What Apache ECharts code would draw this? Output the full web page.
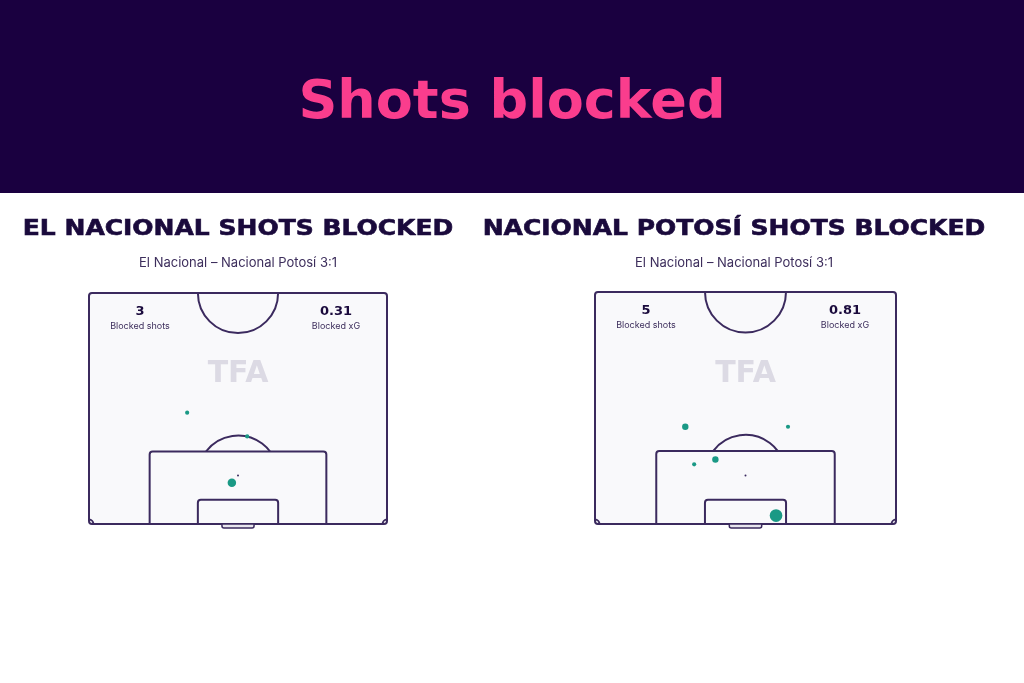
<!DOCTYPE html>
<html>
<head>
<meta charset="utf-8">
<script src="https://cdn.jsdelivr.net/npm/echarts@6/dist/echarts.min.js"></script>
<style>
  html, body { margin: 0; padding: 0; background: #ffffff; }
  #chart { width: 1024px; height: 683px; }
</style>
</head>
<body>
<div id="chart"></div>
<script>
// ---- Data ----
const mainTitle = 'Shots blocked';
const teams = ['EL NACIONAL', 'NACIONAL POTOSÍ'];
const matchLabel = 'El Nacional – Nacional Potosí 3:1';
const statLabels = ['Blocked shots', 'Blocked xG'];
const blockedShots = [3, 5];
const blockedXG = ['0.31', '0.81'];

// shot locations in metres (x across pitch 0-68, y distance from goal line) and xG
const homeShotX = [22.4, 36.1, 32.6];
const homeShotY = [25.3, 19.9, 9.4];
const homeShotXG = [0.05, 0.05, 0.21];

const awayShotX = [20.4, 43.6, 22.4, 27.2, 40.9];
const awayShotY = [22.0, 22.0, 13.5, 14.6, 1.9];
const awayShotXG = [0.12, 0.05, 0.05, 0.12, 0.47];

// ---- Styling ----
const LINE = '#3b2a5e';
const DARK = '#1a0a3c';
const DOT = '#1a9985';
const PITCH_W = 68, PITCH_H = 52.5;

function pitchRender(params, api) {
  const P = (x, y) => api.coord([x, y]);
  const o = P(0, 0), tr = P(PITCH_W, PITCH_H);
  const k = (tr[0] - o[0]) / PITCH_W;
  const st = { stroke: LINE, lineWidth: 2, fill: null };
  function rectM(x0, y0, x1, y1, r, fill) {
    const a = P(x0, y1), b = P(x1, y0);
    return { type: 'rect', shape: { x: a[0], y: a[1], width: b[0] - a[0], height: b[1] - a[1], r: r },
      style: Object.assign({}, st, { fill: fill || null }) };
  }
  const spot = P(34, 11);
  const cc = P(34, PITCH_H);
  const th = Math.asin(5.5 / 9.15);
  const children = [
    rectM(0, 0, PITCH_W, PITCH_H, 3, '#f9f9fb'),
    { type: 'arc', shape: { cx: cc[0], cy: cc[1], r: 9.15 * k, startAngle: 0, endAngle: Math.PI, clockwise: true }, style: st },
    rectM(13.84, 0, 54.16, 16.5, [3, 3, 0, 0]),
    rectM(24.84, 0, 43.16, 5.5, [3, 3, 0, 0]),
    { type: 'arc', shape: { cx: spot[0], cy: spot[1], r: 9.15 * k, startAngle: -Math.PI + th, endAngle: -th, clockwise: true }, style: st },
    { type: 'circle', shape: { cx: spot[0], cy: spot[1], r: 1 }, style: { fill: LINE } },
    { type: 'arc', shape: { cx: o[0], cy: o[1], r: 1 * k, startAngle: -Math.PI / 2, endAngle: 0, clockwise: true }, style: st },
    { type: 'arc', shape: { cx: tr[0], cy: o[1], r: 1 * k, startAngle: -Math.PI, endAngle: -Math.PI / 2, clockwise: true }, style: st },
  ];
  const g0 = P(30.34, 0), g1 = P(37.66, 0);
  children.push({ type: 'rect', shape: { x: g0[0], y: g0[1], width: g1[0] - g0[0], height: 4, r: [0, 0, 2, 2] },
    style: { stroke: LINE, lineWidth: 1.5, fill: '#e8e6ee' } });
  return { type: 'group', children: children };
}

function toPoints(xs, ys, xg) {
  return xs.map((x, i) => [x, ys[i], xg[i]]);
}

const grids = [
  { left: 89, top: 293, width: 298, height: 231 },
  { left: 595, top: 292, width: 301, height: 232 }
];
const centers = grids.map(g => g.left + g.width / 2);

const graphics = [
  { type: 'rect', shape: { x: 0, y: 0, width: 1024, height: 193 }, style: { fill: '#1a0040' }, z: 0 },
  { type: 'text', x: 512, y: 104, z: 100,
    style: { text: mainTitle, fill: '#fa3d8d', font: 'bold 54px "DejaVu Sans"', textAlign: 'center', textVerticalAlign: 'middle' } }
];
const titleCenters = [238, 734];
[0, 1].forEach(i => {
  const c = centers[i];
  graphics.push({ type: 'text', x: titleCenters[i], y: 230, z: 100, scaleX: 1.19, originX: 0, originY: 0,
    style: { text: teams[i] + ' SHOTS BLOCKED', fill: DARK, font: 'bold 21px "DejaVu Sans"', textAlign: 'center', textVerticalAlign: 'middle', stroke: DARK, lineWidth: 0.6 } });
  graphics.push({ type: 'text', x: titleCenters[i], y: 263, z: 100,
    style: { text: matchLabel, fill: '#3d2e5c', font: '13px Inter', textAlign: 'center', textVerticalAlign: 'middle' } });
  const sx1 = grids[i].left + 51, sx2 = grids[i].left + grids[i].width - 51;
  const ty = grids[i].top + 19;
  graphics.push({ type: 'text', x: sx1, y: ty, z: 100,
    style: { text: String(blockedShots[i]), fill: DARK, font: 'bold 13px "DejaVu Sans"', textAlign: 'center', textVerticalAlign: 'middle' } });
  graphics.push({ type: 'text', x: sx1, y: ty + 14, z: 100,
    style: { text: statLabels[0], fill: '#3d2e5c', font: '9px Inter', textAlign: 'center', textVerticalAlign: 'middle' } });
  graphics.push({ type: 'text', x: sx2, y: ty, z: 100,
    style: { text: blockedXG[i], fill: DARK, font: 'bold 13px "DejaVu Sans"', textAlign: 'center', textVerticalAlign: 'middle' } });
  graphics.push({ type: 'text', x: sx2, y: ty + 14, z: 100,
    style: { text: statLabels[1], fill: '#3d2e5c', font: '9px Inter', textAlign: 'center', textVerticalAlign: 'middle' } });
  graphics.push({ type: 'text', x: c, y: 374, z: 100,
    style: { text: 'TFA', fill: '#dcdae4', font: '900 30px "DejaVu Sans"', textAlign: 'center', textVerticalAlign: 'middle' } });
});

const option = {
  animation: false,
  backgroundColor: '#ffffff',
  grid: grids,
  xAxis: grids.map((g, i) => ({ type: 'value', gridIndex: i, min: 0, max: PITCH_W, show: false })),
  yAxis: grids.map((g, i) => ({ type: 'value', gridIndex: i, min: 0, max: PITCH_H, show: false })),
  graphic: graphics,
  series: [
    { type: 'custom', xAxisIndex: 0, yAxisIndex: 0, data: [[0, 0]], renderItem: pitchRender, z: 1, silent: true },
    { type: 'custom', xAxisIndex: 1, yAxisIndex: 1, data: [[0, 0]], renderItem: pitchRender, z: 1, silent: true },
    { type: 'scatter', xAxisIndex: 0, yAxisIndex: 0, z: 5, data: toPoints(homeShotX, homeShotY, homeShotXG),
      symbolSize: d => 18.5 * Math.sqrt(d[2]), itemStyle: { color: DOT, opacity: 1 } },
    { type: 'scatter', xAxisIndex: 1, yAxisIndex: 1, z: 5, data: toPoints(awayShotX, awayShotY, awayShotXG),
      symbolSize: d => 18.5 * Math.sqrt(d[2]), itemStyle: { color: DOT, opacity: 1 } }
  ]
};
const chart = echarts.init(document.getElementById('chart'), null, { renderer: 'canvas' });
chart.setOption(option);
</script>
</body>
</html>
